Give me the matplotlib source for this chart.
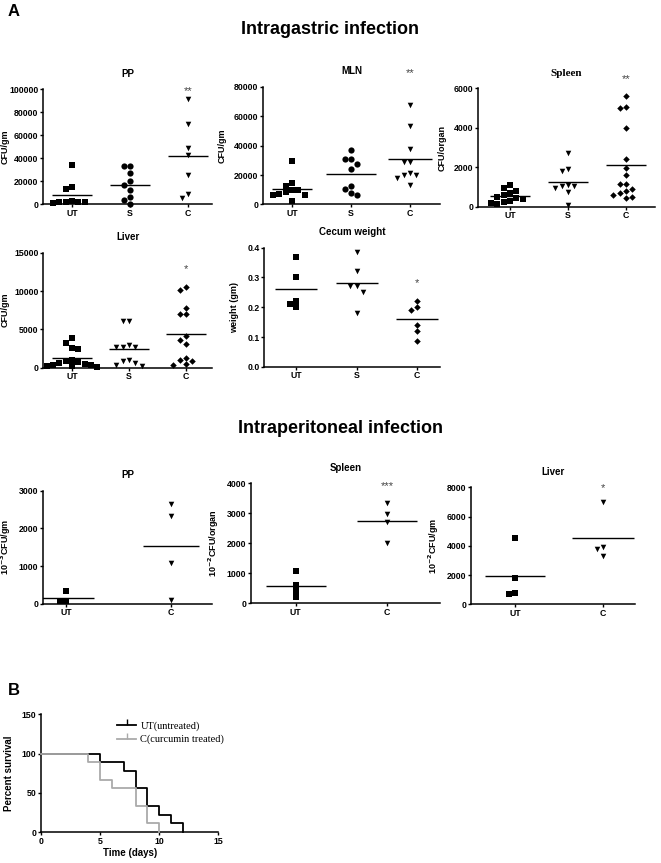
import numpy as np
import matplotlib
matplotlib.use('Agg')
import matplotlib.pyplot as plt
from matplotlib.lines import Line2D

plt.rcParams['font.family'] = ['Liberation Sans', 'DejaVu Sans']
plt.rcParams['font.weight'] = 'bold'
plt.rcParams['axes.labelweight'] = 'bold'

# ---------------- data ----------------
cats3 = ['UT', 'S', 'C']
cats2 = ['UT', 'C']

ig_pp_ut = [34000, 15000, 13000, 2500, 2000, 2000, 2000, 2000, 500]
ig_pp_s = [33000, 33000, 27000, 20000, 16500, 12000, 6000, 3500, 0]
ig_pp_c = [91600, 69800, 48800, 42800, 25300, 8700, 5000]

ig_mln_ut = [29700, 14500, 12700, 10000, 9500, 8600, 7000, 6400, 6200, 2300]
ig_mln_s = [37000, 30800, 30800, 27200, 24000, 12700, 10500, 8000, 6600]
ig_mln_c = [67500, 53300, 37600, 29000, 29000, 21100, 20200, 19700, 17700, 13200]

ig_spl_ut = [1100, 970, 800, 700, 600, 500, 450, 400, 300, 250, 200, 150]
ig_spl_s = [2700, 1910, 1810, 1080, 1070, 1060, 950, 750, 100]
ig_spl_c = [5600, 5070, 5020, 4000, 2400, 1980, 1610, 1150, 1150, 900, 800, 700, 600, 500, 470]

ig_liv_ut = [3820, 3170, 2520, 2390, 1000, 800, 700, 600, 500, 400, 350, 250, 200, 100]
ig_liv_s = [6040, 6040, 2950, 2730, 2730, 2730, 1000, 800, 600, 400, 270]
ig_liv_c = [10500, 10100, 7820, 6960, 6960, 4170, 3560, 3120, 1300, 1000, 800, 500, 280]

cecum_ut = [0.37, 0.30, 0.222, 0.21, 0.20]
cecum_s = [0.384, 0.322, 0.272, 0.272, 0.252, 0.181]
cecum_c = [0.222, 0.20, 0.19, 0.14, 0.119, 0.088]

ip_pp_ut = [330, 80, 60]
ip_pp_c = [2640, 2340, 1070, 100]
ip_spl_ut = [1080, 600, 400, 200]
ip_spl_c = [3330, 2970, 2700, 2000]
ip_liv_ut = [4520, 1800, 800, 700]
ip_liv_c = [7000, 3950, 3800, 3320]

ut_death_days = [5, 7, 8, 8, 9, 9, 10, 11, 12]
c_death_days = [4, 5, 5, 6, 8, 8, 9, 9, 10]
survival_labels = ['UT(untreated)', 'C(curcumin treated)']

# ---------------- layout ----------------
W, H = 661, 863
fig = plt.figure(figsize=(W / 100, H / 100), dpi=100)

TICK_FS = 6.3
LAB_FS = 6.5


def make_ax(l, t, r, b, xlim, ylim, yticks, ylabel, title, cats, label_x_px,
            title_family=None, title_pad=9):
    ax = fig.add_axes([l / W, 1 - b / H, (r - l) / W, (b - t) / H])
    ax.set_xlim(xlim)
    ax.set_ylim(ylim)
    for s in ['top', 'right']:
        ax.spines[s].set_visible(False)
    for s in ['left', 'bottom']:
        ax.spines[s].set_linewidth(1.1)
    if cats is not None:
        ax.set_xticks(range(len(cats)))
        ax.set_xticklabels(cats)
    ax.set_yticks(yticks)
    ax.tick_params(labelsize=TICK_FS, width=1.0, length=2.5, pad=0.8)
    for lab in ax.get_xticklabels() + ax.get_yticklabels():
        lab.set_fontweight('bold')
    ax.set_ylabel(ylabel, fontsize=LAB_FS, fontweight='bold')
    ax.yaxis.set_label_coords((label_x_px - l) / (r - l), 0.5)
    if title:
        if title_family:
            ax.set_title(title, fontsize=8, fontweight='bold', family=title_family, pad=title_pad)
        else:
            ax.set_title(title, fontsize=7, fontweight='bold', pad=title_pad)
    return ax


def swarm(ax, xc, vals, marker, s, halfw_px, d=6.3):
    vals = np.asarray(vals, float)
    tr = ax.transData
    pts = tr.transform(np.column_stack([np.full(len(vals), xc), vals]))
    ypx = pts[:, 1]
    x0 = pts[0, 0]
    order = np.argsort(-vals, kind='stable')
    placed = []
    offs = np.zeros(len(vals))
    cand = [0]
    for k in range(1, 8):
        cand += [-k * d, k * d]
    for i in order:
        for ox in cand:
            if all((ox - px) ** 2 + (ypx[i] - py) ** 2 >= (0.95 * d) ** 2 for px, py in placed):
                break
        placed.append((ox, ypx[i]))
        offs[i] = ox
    xs = tr.inverted().transform(np.column_stack([x0 + offs, ypx]))[:, 0]
    m = vals.mean()
    xl = tr.inverted().transform([[x0 - halfw_px, 0], [x0 + halfw_px, 0]])[:, 0]
    ax.plot(xl, [m, m], color='k', lw=1.0, zorder=2, solid_capstyle='butt')
    ax.scatter(xs, vals, marker=marker, s=s, c='k', linewidths=0, clip_on=False, zorder=3)


def stars(ax, xc, y, txt):
    ax.text(xc, y, txt, ha='center', va='center', fontsize=8, color='#444444', fontweight='normal')


MS = {'s': 14, 'o': 20, 'v': 16, 'D': 11}

# Titles / panel letters
fig.text(8 / W, 1 - 12 / H, 'A', fontsize=12, fontweight='bold', va='center', ha='left')
fig.text(330 / W, 1 - 30 / H, 'Intragastric infection', fontsize=13, fontweight='bold',
         ha='center', va='center')
fig.text(340 / W, 1 - 428 / H, 'Intraperitoneal infection', fontsize=13, fontweight='bold',
         ha='center', va='center')
fig.text(8 / W, 1 - 690 / H, 'B', fontsize=12, fontweight='bold', va='center', ha='left')

# Row 1: PP
ax = make_ax(43, 89, 212, 204, (-0.5, 2.41), (0, 100000), np.arange(0, 100001, 20000),
             'CFU/gm', 'PP', cats3, 10)
swarm(ax, 0, ig_pp_ut, 's', MS['s'], 20)
swarm(ax, 1, ig_pp_s, 'o', MS['o'], 20)
swarm(ax, 2, ig_pp_c, 'v', MS['v'], 20)
stars(ax, 2, 98600, '**')

# Row 1: MLN
ax = make_ax(263, 87, 440, 204.4, (-0.49, 2.51), (0, 80000), np.arange(0, 80001, 20000),
             'CFU/gm', 'MLN', cats3, 227)
swarm(ax, 0, ig_mln_ut, 's', MS['s'], 20)
swarm(ax, 1, ig_mln_s, 'o', MS['o'], 25)
swarm(ax, 2, ig_mln_c, 'v', MS['v'], 22)
stars(ax, 2, 89300, '**')

# Row 1: Spleen
ax = make_ax(478, 88.3, 655, 206.8, (-0.55, 2.5), (0, 6000), np.arange(0, 6001, 2000),
             'CFU/organ', 'Spleen', cats3, 447, title_family=['Liberation Serif', 'DejaVu Serif'])
swarm(ax, 0, ig_spl_ut, 's', MS['s'], 20)
swarm(ax, 1, ig_spl_s, 'v', MS['v'], 20)
swarm(ax, 2, ig_spl_c, 'D', MS['D'], 20)
stars(ax, 2, 6470, '**')

# Row 2: Liver
ax = make_ax(43, 252.7, 212, 367.6, (-0.51, 2.46), (0, 15000), np.arange(0, 15001, 5000),
             'CFU/gm', 'Liver', cats3, 10)
swarm(ax, 0, ig_liv_ut, 's', MS['s'], 20)
swarm(ax, 1, ig_liv_s, 'v', MS['v'], 20)
swarm(ax, 2, ig_liv_c, 'D', MS['D'], 20)
stars(ax, 2, 12870, '*')

# Row 2: Cecum weight
ax = make_ax(264, 247.7, 440, 366.8, (-0.53, 2.38), (0, 0.4), np.arange(0, 0.41, 0.1),
             'weight (gm)', 'Cecum weight', cats3, 239)
ax.set_yticklabels(['0.0', '0.1', '0.2', '0.3', '0.4'])
swarm(ax, 0, cecum_ut, 's', MS['s'], 21)
swarm(ax, 1, cecum_s, 'v', MS['v'], 21)
swarm(ax, 2, cecum_c, 'D', MS['D'], 21)
stars(ax, 2, 0.282, '*')

# Row 3: PP
ax = make_ax(43, 490.7, 212, 603.7, (-0.22, 1.39), (0, 3000), np.arange(0, 3001, 1000),
             '10$^{-3}$CFU/gm', 'PP', cats2, 13)
swarm(ax, 0, ip_pp_ut, 's', MS['s'], 28)
swarm(ax, 1, ip_pp_c, 'v', MS['v'], 28)

# Row 3: Spleen
ax = make_ax(251, 483.3, 440, 603.3, (-0.49, 1.58), (0, 4000), np.arange(0, 4001, 1000),
             '10$^{-2}$CFU/organ', 'Spleen', cats2, 221)
swarm(ax, 0, ip_spl_ut, 's', MS['s'], 30)
swarm(ax, 1, ip_spl_c, 'v', MS['v'], 30)
stars(ax, 1, 3910, '***')

# Row 3: Liver
ax = make_ax(471, 487.3, 635, 604.4, (-0.5, 1.36), (0, 8000), np.arange(0, 8001, 2000),
             '10$^{-2}$CFU/gm', 'Liver', cats2, 441)
swarm(ax, 0, ip_liv_ut, 's', MS['s'], 30)
swarm(ax, 1, ip_liv_c, 'v', MS['v'], 31)
stars(ax, 1, 7970, '*')


# Panel B: survival
def km(days):
    days = np.sort(np.asarray(days, float))
    n = len(days)
    xs, ys = [0.0], [100.0]
    alive = n
    for t in np.unique(days):
        alive -= np.sum(days == t)
        xs.append(t)
        ys.append(100.0 * alive / n)
    return np.array(xs), np.array(ys)


ax = make_ax(41, 714.3, 218.3, 832, (0, 15), (0, 150), np.arange(0, 151, 50),
             'Percent survival', None, None, 14)
ax.set_xticks(np.arange(0, 16, 5))
for lab in ax.get_xticklabels():
    lab.set_fontweight('bold')
ax.set_xlabel('Time (days)', fontsize=7, fontweight='bold', labelpad=2)
ax.yaxis.label.set_fontsize(7)
x1, y1 = km(ut_death_days)
x2, y2 = km(c_death_days)
ax.step(x1, y1, where='post', color='black', lw=1.3, clip_on=False, zorder=3)
ax.step(x2, y2, where='post', color='#aaaaaa', lw=1.3, clip_on=False, zorder=4)
handles = [Line2D([], [], color='black', lw=1.3, marker=2, markersize=4),
           Line2D([], [], color='#aaaaaa', lw=1.3, marker=2, markersize=4)]
ax.legend(handles, survival_labels, loc='upper left', bbox_to_anchor=(0.39, 1.0),
          frameon=False, handlelength=1.8, handletextpad=0.4, borderpad=0.2, labelspacing=0.35,
          prop={'family': ['Liberation Serif', 'DejaVu Serif'], 'size': 7.5, 'weight': 'normal'})

fig.savefig('out.png', dpi=100)
